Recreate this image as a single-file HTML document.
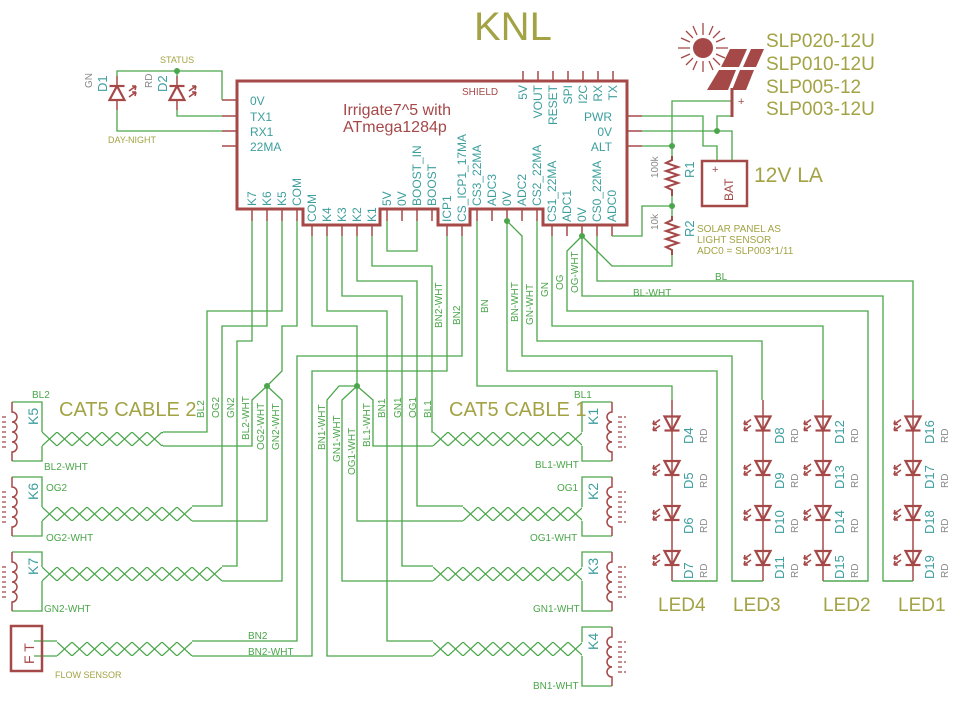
<!DOCTYPE html>
<html><head><meta charset="utf-8"><style>
html,body{margin:0;padding:0;background:#fff}
svg{display:block}
text{font-family:"Liberation Sans",sans-serif}
.g{stroke:#4aa64a;stroke-width:1.3;fill:none}
.r{stroke:#a54848;fill:none}
.t{fill:#3d9e9e}
.o{fill:#a3a345}
.gt{fill:#4aa64a;font-size:10px}
.gr{fill:#888;font-size:10px}
</style></head><body>
<svg width="953" height="713" viewBox="0 0 953 713" xmlns="http://www.w3.org/2000/svg">
<defs>
<pattern id="tw" patternUnits="userSpaceOnUse" width="30" height="14">
<path d="M0,0 L15,14 L30,0 M0,14 L15,0 L30,14" stroke="#4aa64a" stroke-width="1.2" fill="none"/>
</pattern>
<g id="dd"><path d="M-7.5,-7 H7.5 L0,7 Z" fill="none" stroke="#a54848" stroke-width="2.2"/><path d="M-7.5,7 H7.5" stroke="#a54848" stroke-width="2.2"/>
<path d="M-12,-4 L-19,1 M-19,1 l1,-4 M-19,1 l4,0 M-12,2 L-19,7 M-19,7 l1,-4 M-19,7 l4,0" stroke="#a54848" stroke-width="1.6" fill="none"/></g>
<g id="coilR"><path d="M0,0 V10 a5,5 0 0 0 0,10 a5,5 0 0 0 0,10 a5,5 0 0 0 0,10 a5,5 0 0 0 0,10 V59" class="r" stroke-width="1.5"/>
<path d="M6,15 h4 M6,20 h4 M6,25 h4 M6,30 h4 M6,35 h4 M6,40 h4 M6,45 h4 M12,15 h2 M12,25 h2 M12,35 h2 M12,45 h2" stroke="#a54848" stroke-width="1.2"/></g>
<g id="coilL"><path d="M0,0 V10 a5,5 0 0 1 0,10 a5,5 0 0 1 0,10 a5,5 0 0 1 0,10 a5,5 0 0 1 0,10 V59" class="r" stroke-width="1.5"/>
<path d="M-6,15 h-4 M-6,20 h-4 M-6,25 h-4 M-6,30 h-4 M-6,35 h-4 M-6,40 h-4 M-6,45 h-4 M-12,15 h-2 M-12,25 h-2 M-12,35 h-2 M-12,45 h-2" stroke="#a54848" stroke-width="1.2"/></g>
</defs>

<text x="474" y="40" class="o" font-size="40">KNL</text>

<path d="M237,81 H627 V225 H543 V209 H470 V225 H438 V209 H380 V225 H303 V209 H237 Z" class="r" stroke-width="3"/>
<g class="r" stroke-width="1.5">
<path d="M222,100H237M222,116H237M222,131H237M222,146H237"/>
<path d="M523,71V81M538,71V81M553,71V81M568,71V81M583,71V81M598,71V81M613,71V81"/>
<path d="M627,116H642M627,131H642M627,146H642"/>
<path d="M252,209V221M267,209V221M282,209V221M297,209V221M387,209V221M402,209V221M417,209V221M432,209V221M477,209V221M492,209V221M507,209V221M522,209V221M537,209V221"/>
<path d="M312,225V236M327,225V236M342,225V236M357,225V236M372,225V236M447,225V236M462,225V236M552,225V236M567,225V236M582,225V236M597,225V236M612,225V236"/>
</g>
<text x="343" y="115" fill="#a54848" font-size="16">Irrigate7^5 with</text>
<text x="343" y="132" fill="#a54848" font-size="16">ATmega1284p</text>
<text x="462" y="95" fill="#a54848" font-size="10">SHIELD</text>
<g class="t" font-size="12">
<text x="250" y="105">0V</text><text x="250" y="121">TX1</text><text x="250" y="136">RX1</text><text x="250" y="151">22MA</text>
<text x="612" y="121" text-anchor="end">PWR</text><text x="612" y="136" text-anchor="end">0V</text><text x="612" y="151" text-anchor="end">ALT</text>
</g>
<g class="t" font-size="12" text-anchor="end">
<text transform="translate(527,85) rotate(-90)">5V</text>
<text transform="translate(542,85) rotate(-90)">VOUT</text>
<text transform="translate(557,85) rotate(-90)">RESET</text>
<text transform="translate(572,85) rotate(-90)">SPI</text>
<text transform="translate(587,85) rotate(-90)">I2C</text>
<text transform="translate(602,85) rotate(-90)">RX</text>
<text transform="translate(617,85) rotate(-90)">TX</text>
</g>
<g class="t" font-size="12">
<text transform="translate(256,206) rotate(-90)">K7</text>
<text transform="translate(271,206) rotate(-90)">K6</text>
<text transform="translate(286,206) rotate(-90)">K5</text>
<text transform="translate(301,206) rotate(-90)">COM</text>
<text transform="translate(316,222) rotate(-90)">COM</text>
<text transform="translate(331,222) rotate(-90)">K4</text>
<text transform="translate(346,222) rotate(-90)">K3</text>
<text transform="translate(361,222) rotate(-90)">K2</text>
<text transform="translate(376,222) rotate(-90)">K1</text>
<text transform="translate(391,206) rotate(-90)">5V</text>
<text transform="translate(406,206) rotate(-90)">0V</text>
<text transform="translate(421,206) rotate(-90)">BOOST_IN</text>
<text transform="translate(436,206) rotate(-90)">BOOST</text>
<text transform="translate(451,222) rotate(-90)">ICP1</text>
<text transform="translate(466,222) rotate(-90)">CS_ICP1_17MA</text>
<text transform="translate(481,206) rotate(-90)">CS3_22MA</text>
<text transform="translate(496,206) rotate(-90)">ADC3</text>
<text transform="translate(511,206) rotate(-90)">0V</text>
<text transform="translate(526,206) rotate(-90)">ADC2</text>
<text transform="translate(541,206) rotate(-90)">CS2_22MA</text>
<text transform="translate(556,222) rotate(-90)">CS1_22MA</text>
<text transform="translate(571,222) rotate(-90)">ADC1</text>
<text transform="translate(586,222) rotate(-90)">0V</text>
<text transform="translate(601,222) rotate(-90)">CS0_22MA</text>
<text transform="translate(616,222) rotate(-90)">ADC0</text>
</g>

<g class="g">
<path d="M117,76V71H222V100M177,76V71"/>
<path d="M177,110V116H222M117,110V131H222"/>
</g>
<circle cx="177" cy="71" r="3" fill="#4aa64a"/>
<g class="r" stroke-width="1.5"><path d="M117,76V86M117,100V110M177,76V86M177,100V110"/></g>
<g transform="translate(117,93) rotate(180)"><use href="#dd"/></g>
<g transform="translate(177,93) rotate(180)"><use href="#dd"/></g>
<text x="160" y="63" class="o" font-size="9">STATUS</text>
<text x="108" y="143" class="o" font-size="9">DAY-NIGHT</text>
<text transform="translate(92,88) rotate(-90)" class="gr">GN</text>
<text transform="translate(107,92) rotate(-90)" class="t" font-size="13">D1</text>
<text transform="translate(152,88) rotate(-90)" class="gr">RD</text>
<text transform="translate(167,92) rotate(-90)" class="t" font-size="13">D2</text>

<g class="g">
<path d="M252,221V341H237V566H222"/>
<path d="M267,221V326H222V506H192"/>
<path d="M282,221V311H207V432H163"/>
<path d="M297,221V326H282V371L267,386"/>
<path d="M267,386L252,400V446H163M267,386V521H192M267,386L282,400V581H222"/>
<path d="M312,236V326H357V386"/>
<path d="M357,386H339L327,400V656H433M357,386L342,400V581H433M357,386V521H463M357,386L373,400V446H433"/>
<path d="M327,236V311H387V641H433"/>
<path d="M342,236V296H402V566H433"/>
<path d="M357,236V281H417V506H463"/>
<path d="M372,236V266H432V432H433"/>
<path d="M387,221V251H417V221"/>
<path d="M447,236V371H312V656H192"/>
<path d="M462,236V356H297V641H192"/>
<path d="M477,221V386H672V400"/>
<path d="M507,221V371H717V581H672"/>
<path d="M507,221L522,236V356H732V581H763"/>
<path d="M537,221V341H762V400"/>
<path d="M552,236V326H823V400"/>
<path d="M582,236L567,251V311H868V581H823"/>
<path d="M582,236V296H883V581H913"/>
<path d="M582,236L612,266H672V255"/>
<path d="M597,236V281H913V400"/>
<path d="M612,236H642V206H672"/>
<path d="M642,116H703V146H717V161M642,131H732V161M717,131V116H732M642,146H672M672,146V101H731"/>
<path d="M672,146V156M672,196V206V216M34,641H57M34,656H57"/>
</g>
<g fill="#4aa64a">
<circle cx="267" cy="386" r="3"/><circle cx="357" cy="386" r="3"/><circle cx="507" cy="221" r="3"/>
<circle cx="582" cy="236" r="3"/><circle cx="717" cy="131" r="3"/><circle cx="672" cy="146" r="3"/><circle cx="672" cy="206" r="3"/>
</g>

<g class="r" stroke-width="2">
<path d="M672,156V160L666,163L678,167L666,171L678,175L666,179L678,183L666,187L672,190V196"/>
<path d="M672,216V220L666,223L678,227L666,231L678,235L666,239L678,243L666,247L672,250V255"/>
</g>
<text transform="translate(694,178) rotate(-90)" class="t" font-size="13">R1</text>
<text transform="translate(658,178) rotate(-90)" class="gr" font-size="9">100k</text>
<text transform="translate(694,237) rotate(-90)" class="t" font-size="13">R2</text>
<text transform="translate(658,230) rotate(-90)" class="gr" font-size="9">10k</text>
<g class="o" font-size="10"><text x="697" y="232">SOLAR PANEL AS</text><text x="697" y="243">LIGHT SENSOR</text><text x="697" y="254">ADC0 = SLP003*1/11</text></g>

<rect x="702" y="161" width="45" height="45" class="r" stroke-width="2.5"/>
<text x="712" y="173" fill="#a54848" font-size="11">+</text>
<text transform="translate(733,201) rotate(-90)" fill="#a54848" font-size="12">BAT</text>
<text x="754" y="182" class="o" font-size="21">12V LA</text>

<circle cx="703" cy="48" r="10" fill="#a54848"/>
<g stroke="#a54848" stroke-width="1.3">
<path d="M703,23V35M703,61V72M678,48H690M716,48H728M686,31l7,7M713,58l7,7M686,65l7,-7M713,38l7,-7M693,26l4,9M709,61l4,9M693,70l4,-9M709,35l4,-9M681,38l9,4M716,54l9,4M681,58l9,-4M716,42l9,-4"/>
</g>
<g fill="#a54848">
<polygon points="730,49 747,49 739,67 721,67"/>
<polygon points="751,49 764,49 756,67 743,67"/>
<polygon points="719,70 736,70 728,90 707,90"/>
<polygon points="740,70 754,70 746,90 732,90"/>
</g>
<path d="M732,88V117" stroke="#a54848" stroke-width="3"/>
<text x="738" y="105" fill="#a54848" font-size="11">+</text>
<g class="o" font-size="19">
<text x="766" y="47">SLP020-12U</text><text x="766" y="70">SLP010-12U</text><text x="766" y="93">SLP005-12</text><text x="766" y="115">SLP003-12U</text>
</g>

<g class="r" stroke-width="1.5">
<path d="M672,400V581M763,400V581M823,400V581M913,400V581"/>
</g>
<g>
<use href="#dd" x="672" y="423.5"/><use href="#dd" x="672" y="468"/><use href="#dd" x="672" y="513"/><use href="#dd" x="672" y="558"/>
<use href="#dd" x="763" y="423.5"/><use href="#dd" x="763" y="468"/><use href="#dd" x="763" y="513"/><use href="#dd" x="763" y="558"/>
<use href="#dd" x="823" y="423.5"/><use href="#dd" x="823" y="468"/><use href="#dd" x="823" y="513"/><use href="#dd" x="823" y="558"/>
<use href="#dd" x="913" y="423.5"/><use href="#dd" x="913" y="468"/><use href="#dd" x="913" y="513"/><use href="#dd" x="913" y="558"/>
</g>
<g class="g"><path d="M672,581H717M732,581H763M823,581H868M883,581H913"/></g>
<g class="t" font-size="13">
<text transform="translate(693,444) rotate(-90)">D4</text><text transform="translate(693,489) rotate(-90)">D5</text><text transform="translate(693,534) rotate(-90)">D6</text><text transform="translate(693,579) rotate(-90)">D7</text>
<text transform="translate(784,444) rotate(-90)">D8</text><text transform="translate(784,489) rotate(-90)">D9</text><text transform="translate(784,534) rotate(-90)">D10</text><text transform="translate(784,579) rotate(-90)">D11</text>
<text transform="translate(844,444) rotate(-90)">D12</text><text transform="translate(844,489) rotate(-90)">D13</text><text transform="translate(844,534) rotate(-90)">D14</text><text transform="translate(844,579) rotate(-90)">D15</text>
<text transform="translate(934,444) rotate(-90)">D16</text><text transform="translate(934,489) rotate(-90)">D17</text><text transform="translate(934,534) rotate(-90)">D18</text><text transform="translate(934,579) rotate(-90)">D19</text>
</g>
<g class="gr" font-size="9">
<text transform="translate(707,443) rotate(-90)">RD</text><text transform="translate(707,488) rotate(-90)">RD</text><text transform="translate(707,533) rotate(-90)">RD</text><text transform="translate(707,578) rotate(-90)">RD</text>
<text transform="translate(798,443) rotate(-90)">RD</text><text transform="translate(798,488) rotate(-90)">RD</text><text transform="translate(798,533) rotate(-90)">RD</text><text transform="translate(798,578) rotate(-90)">RD</text>
<text transform="translate(858,443) rotate(-90)">RD</text><text transform="translate(858,488) rotate(-90)">RD</text><text transform="translate(858,533) rotate(-90)">RD</text><text transform="translate(858,578) rotate(-90)">RD</text>
<text transform="translate(948,443) rotate(-90)">RD</text><text transform="translate(948,488) rotate(-90)">RD</text><text transform="translate(948,533) rotate(-90)">RD</text><text transform="translate(948,578) rotate(-90)">RD</text>
</g>
<g class="o" font-size="19">
<text x="658" y="611">LED4</text><text x="733" y="611">LED3</text><text x="823" y="611">LED2</text><text x="898" y="611">LED1</text>
</g>

<g transform="translate(42,432)"><rect width="121" height="14" fill="url(#tw)"/></g>
<g transform="translate(42,507)"><rect width="150" height="14" fill="url(#tw)"/></g>
<g transform="translate(42,567)"><rect width="180" height="14" fill="url(#tw)"/></g>
<g transform="translate(57,642)"><rect width="135" height="14" fill="url(#tw)"/></g>
<g transform="translate(433,432)"><rect width="149" height="14" fill="url(#tw)"/></g>
<g transform="translate(463,507)"><rect width="119" height="14" fill="url(#tw)"/></g>
<g transform="translate(433,567)"><rect width="149" height="14" fill="url(#tw)"/></g>
<g transform="translate(433,642)"><rect width="149" height="14" fill="url(#tw)"/></g>

<g class="g">
<path d="M12,402H42V432M42,446V461H12"/>
<path d="M12,477H42V507M42,521V536H12"/>
<path d="M12,552H42V567M42,581V611H12"/>
<path d="M612,402H582V432M582,446V461H612"/>
<path d="M612,477H582V507M582,521V536H612"/>
<path d="M612,552H582V567M582,581V611H612"/>
<path d="M612,627H582V642M582,656V686H612"/>
</g>
<use href="#coilL" x="12" y="402"/><use href="#coilL" x="12" y="477"/><use href="#coilL" x="12" y="552"/>
<use href="#coilR" x="612" y="402"/><use href="#coilR" x="612" y="477"/><use href="#coilR" x="612" y="552"/><use href="#coilR" x="612" y="627"/>
<rect x="11" y="626" width="31" height="45" class="r" stroke-width="2.5"/>
<text transform="translate(34,664) rotate(-90)" fill="#a54848" font-size="14">F T</text>
<g class="t" font-size="14">
<text transform="translate(38,425) rotate(-90)">K5</text><text transform="translate(38,500) rotate(-90)">K6</text><text transform="translate(38,575) rotate(-90)">K7</text>
<text transform="translate(598,425) rotate(-90)">K1</text><text transform="translate(598,500) rotate(-90)">K2</text><text transform="translate(598,575) rotate(-90)">K3</text><text transform="translate(598,650) rotate(-90)">K4</text>
</g>
<g class="o" font-size="20">
<text x="59" y="416">CAT5 CABLE 2</text><text x="449" y="416">CAT5 CABLE 1</text>
</g>
<text x="55" y="678" class="o" font-size="9">FLOW SENSOR</text>

<g class="gt">
<text x="32" y="398">BL2</text><text x="44" y="470">BL2-WHT</text><text x="46" y="491">OG2</text><text x="46" y="541">OG2-WHT</text><text x="44" y="612">GN2-WHT</text>
<text x="248" y="639">BN2</text><text x="248" y="655">BN2-WHT</text>
<text x="574" y="398">BL1</text><text x="535" y="468">BL1-WHT</text><text x="557" y="491">OG1</text><text x="530" y="541">OG1-WHT</text><text x="533" y="612">GN1-WHT</text><text x="533" y="689">BN1-WHT</text>
<text x="715" y="280">BL</text><text x="633" y="296">BL-WHT</text>
<text transform="translate(204,418) rotate(-90)">BL2</text>
<text transform="translate(219,418) rotate(-90)">OG2</text>
<text transform="translate(234,418) rotate(-90)">GN2</text>
<text transform="translate(249,440) rotate(-90)">BL2-WHT</text>
<text transform="translate(264,450) rotate(-90)">OG2-WHT</text>
<text transform="translate(279,450) rotate(-90)">GN2-WHT</text>
<text transform="translate(325,450) rotate(-90)">BN1-WHT</text>
<text transform="translate(340,462) rotate(-90)">GN1-WHT</text>
<text transform="translate(355,475) rotate(-90)">OG1-WHT</text>
<text transform="translate(370,447) rotate(-90)">BL1-WHT</text>
<text transform="translate(385,418) rotate(-90)">BN1</text>
<text transform="translate(401,418) rotate(-90)">GN1</text>
<text transform="translate(416,418) rotate(-90)">OG1</text>
<text transform="translate(431,418) rotate(-90)">BL1</text>
<text transform="translate(442,328) rotate(-90)">BN2-WHT</text>
<text transform="translate(460,325) rotate(-90)">BN2</text>
<text transform="translate(488,313) rotate(-90)">BN</text>
<text transform="translate(518,322) rotate(-90)">BN-WHT</text>
<text transform="translate(533,325) rotate(-90)">GN-WHT</text>
<text transform="translate(548,297) rotate(-90)">GN</text>
<text transform="translate(563,290) rotate(-90)">OG</text>
<text transform="translate(578,293) rotate(-90)">OG-WHT</text>
</g>
</svg>
</body></html>
